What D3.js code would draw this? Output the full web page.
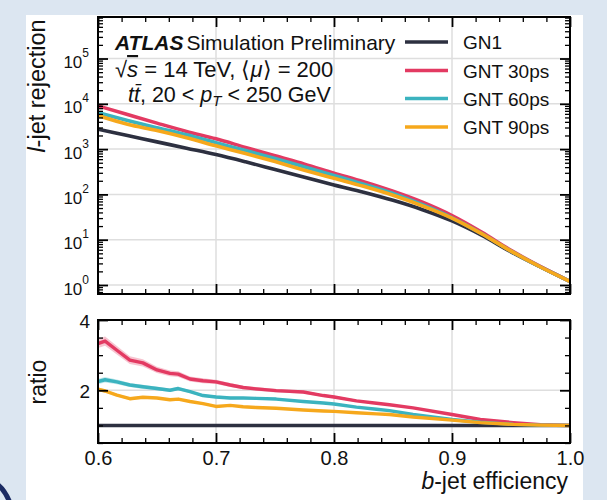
<!DOCTYPE html>
<html><head><meta charset="utf-8">
<script src="https://cdn.jsdelivr.net/npm/d3@7"></script>
<style>
body{margin:0;background:#dce6f1;}
svg{display:block;}
text{font-family:"Liberation Sans",Arial,Helvetica,sans-serif;fill:#111;}
</style>
</head><body><svg id="c" width="607" height="500"></svg>
<script>
// ---------------- data ----------------
const seriesNames = ["GN1", "GNT 30ps", "GNT 60ps", "GNT 90ps"];
const seriesColors = ["#2d3040", "#e33a62", "#3bb3bf", "#f6a81c"];

const effTop = [0.6, 0.625, 0.65, 0.675, 0.7, 0.725, 0.75, 0.775, 0.8, 0.825, 0.85, 0.875, 0.9, 0.925, 0.95, 0.975, 1.0];
const gn1Rej   = [2754, 1995, 1445, 1047, 759, 525, 355, 240, 162, 112, 74, 46, 26, 12.6, 5.4, 2.5, 1.2];
const gnt30Rej = [9000, 5800, 3750, 2460, 1690, 1090, 710, 466, 295, 190, 117, 67, 34, 14.7, 5.8, 2.55, 1.2];
const gnt60Rej = [6400, 4290, 2960, 2070, 1380, 930, 620, 403, 261, 168, 105, 59, 30.4, 13.7, 5.6, 2.5, 1.2];
const gnt90Rej = [5500, 3530, 2570, 1780, 1180, 800, 530, 343, 227, 151, 96, 56, 30, 13.6, 5.6, 2.5, 1.2];

const effRatio = [0.6, 0.606, 0.616, 0.627, 0.638, 0.65, 0.661, 0.668, 0.678, 0.689, 0.7, 0.712, 0.723, 0.734, 0.751, 0.774, 0.791, 0.8, 0.819, 0.836, 0.847, 0.867, 0.9, 0.924, 0.952, 0.975, 1.0];
const gn1Ratio   = [1, 1, 1, 1, 1, 1, 1, 1, 1, 1, 1, 1, 1, 1, 1, 1, 1, 1, 1, 1, 1, 1, 1, 1, 1, 1, 1];
const gnt30Ratio = [3.33, 3.40, 3.14, 2.86, 2.78, 2.58, 2.48, 2.46, 2.32, 2.27, 2.24, 2.15, 2.08, 2.04, 1.99, 1.95, 1.85, 1.81, 1.70, 1.63, 1.59, 1.50, 1.31, 1.17, 1.08, 1.02, 1.0];
const gnt60Ratio = [2.25, 2.30, 2.24, 2.15, 2.10, 2.05, 2.00, 2.05, 1.96, 1.85, 1.81, 1.78, 1.78, 1.77, 1.75, 1.68, 1.64, 1.61, 1.52, 1.46, 1.42, 1.31, 1.17, 1.09, 1.03, 1.01, 1.0];
const gnt90Ratio = [2.03, 1.98, 1.86, 1.76, 1.80, 1.78, 1.73, 1.75, 1.68, 1.62, 1.54, 1.57, 1.53, 1.51, 1.49, 1.44, 1.41, 1.40, 1.36, 1.33, 1.31, 1.24, 1.15, 1.08, 1.03, 1.01, 1.0];
const gnt30Err = [0.13, 0.13, 0.12, 0.11, 0.10, 0.09, 0.08, 0.08, 0.07, 0.07, 0.06, 0.06, 0.05, 0.05, 0.05, 0.04, 0.04, 0.04, 0.03, 0.03, 0.03, 0.02, 0.02, 0.01, 0.01, 0.01, 0.0];
const gnt60Err = [0.08, 0.08, 0.07, 0.06, 0.06, 0.05, 0.05, 0.05, 0.04, 0.04, 0.04, 0.04, 0.03, 0.03, 0.03, 0.03, 0.02, 0.02, 0.02, 0.02, 0.02, 0.02, 0.01, 0.01, 0.01, 0.0, 0.0];
const gnt90Err = [0.05, 0.05, 0.04, 0.04, 0.04, 0.03, 0.03, 0.03, 0.03, 0.03, 0.03, 0.02, 0.02, 0.02, 0.02, 0.02, 0.02, 0.02, 0.02, 0.01, 0.01, 0.01, 0.01, 0.01, 0.0, 0.0, 0.0];

const xTicks = [0.6, 0.7, 0.8, 0.9, 1.0];
const xTickLabels = ["0.6", "0.7", "0.8", "0.9", "1.0"];
const xGrid = [0.7, 0.8, 0.9];
const yTopTicks = [1, 10, 100, 1000, 10000, 100000];
const yTopExps = ["0", "1", "2", "3", "4", "5"];
const ratioTicks = [2, 4];
const ratioTickLabels = ["2", "4"];
const ratioMinor = [0.5, 1, 1.5, 2.5, 3, 3.5];

// ---------------- layout ----------------
const svg = d3.select("#c");
svg.append("rect").attr("width", 607).attr("height", 500).attr("fill", "#dce6f1");
svg.append("rect").attr("x", 26).attr("y", 15).attr("width", 557).attr("height", 485).attr("fill", "#fff");
svg.append("path").attr("d", "M-3,484 Q5,490 10,503").attr("stroke", "#1b2b63").attr("stroke-width", 5).attr("fill", "none");

const L = 98, R = 570, T1 = 17, B1 = 294, T2 = 320, B2 = 443;
const x = d3.scaleLinear().domain([0.6, 1.0]).range([L, R]);
const yTop = d3.scaleLog().domain([0.633, 8.25e5]).range([B1, T1]);
const yRat = d3.scaleLinear().domain([0.5, 4]).range([B2, T2]);

const defs = svg.append("defs");
defs.append("clipPath").attr("id", "c1").append("rect").attr("x", L).attr("y", T1).attr("width", R - L).attr("height", B1 - T1);
defs.append("clipPath").attr("id", "c2").append("rect").attr("x", L).attr("y", T2).attr("width", R - L).attr("height", B2 - T2);

const gridCol = "#dedede";
const g = svg.append("g");
g.selectAll(".hg1").data(yTopTicks).join("line").attr("x1", L).attr("x2", R)
  .attr("y1", d => yTop(d)).attr("y2", d => yTop(d)).attr("stroke", gridCol).attr("stroke-width", 1.5);
g.selectAll(".vg1").data(xGrid).join("line").attr("x1", d => x(d)).attr("x2", d => x(d))
  .attr("y1", T1).attr("y2", B1).attr("stroke", gridCol).attr("stroke-width", 1.5);
g.selectAll(".vg2").data(xGrid).join("line").attr("x1", d => x(d)).attr("x2", d => x(d))
  .attr("y1", T2).attr("y2", B2).attr("stroke", gridCol).attr("stroke-width", 1.5);
g.selectAll(".hg2").data([2]).join("line").attr("x1", L).attr("x2", R)
  .attr("y1", d => yRat(d)).attr("y2", d => yRat(d)).attr("stroke", gridCol).attr("stroke-width", 1.5);

// ---------------- top panel lines ----------------
const topSeries = [gn1Rej, gnt30Rej, gnt60Rej, gnt90Rej];
const lineTop = d3.line().x(d => x(d[0])).y(d => yTop(d[1])).curve(d3.curveMonotoneX);
const gTop = svg.append("g").attr("clip-path", "url(#c1)");
topSeries.forEach((s, i) => {
  gTop.append("path").datum(effTop.map((e, k) => [e, s[k]]))
    .attr("d", lineTop).attr("fill", "none").attr("stroke", seriesColors[i])
    .attr("stroke-width", 3.6).attr("stroke-linejoin", "round");
});

// ---------------- ratio panel ----------------
const ratioSeries = [gn1Ratio, gnt30Ratio, gnt60Ratio, gnt90Ratio];
const ratioErr = [null, gnt30Err, gnt60Err, gnt90Err];
const gRat = svg.append("g").attr("clip-path", "url(#c2)");
const area = d3.area().x(d => x(d[0])).y0(d => yRat(d[1] - d[2])).y1(d => yRat(d[1] + d[2]));
const lineRat = d3.line().x(d => x(d[0])).y(d => yRat(d[1]));
ratioSeries.forEach((s, i) => {
  if (ratioErr[i]) {
    gRat.append("path").datum(effRatio.map((e, k) => [e, s[k], ratioErr[i][k]]))
      .attr("d", area).attr("fill", seriesColors[i]).attr("opacity", 0.3);
  }
});
ratioSeries.forEach((s, i) => {
  gRat.append("path").datum(effRatio.map((e, k) => [e, s[k]]))
    .attr("d", lineRat).attr("fill", "none").attr("stroke", seriesColors[i])
    .attr("stroke-width", 3.4).attr("stroke-linejoin", "round");
});

// ---------------- axes ----------------
const xMinor = d3.range(0.6, 1.0001, 0.02).filter(v => Math.abs(v * 10 - Math.round(v * 10)) > 1e-6);
const yTopMinor = [];
for (let e = -1; e <= 5; e++) for (let k = 2; k <= 9; k++) {
  const v = k * Math.pow(10, e);
  if (v > 0.633 && v < 8.25e5) yTopMinor.push(v);
}
function addAxis(transform, gen, major) {
  const a = svg.append("g").attr("transform", transform).call(gen);
  a.select(".domain").remove();
  a.selectAll(".tick line").attr("stroke", "#000").attr("stroke-width", major ? 1.8 : 1.3);
  a.selectAll(".tick text").remove();
}
addAxis(`translate(0,${B1})`, d3.axisBottom(x).tickValues(xTicks).tickSizeInner(-10).tickSizeOuter(0), true);
addAxis(`translate(0,${B1})`, d3.axisBottom(x).tickValues(xMinor).tickSizeInner(-5).tickSizeOuter(0), false);
addAxis(`translate(0,${T1})`, d3.axisTop(x).tickValues(xTicks).tickSizeInner(-10).tickSizeOuter(0), true);
addAxis(`translate(0,${T1})`, d3.axisTop(x).tickValues(xMinor).tickSizeInner(-5).tickSizeOuter(0), false);
addAxis(`translate(${L},0)`, d3.axisLeft(yTop).tickValues(yTopTicks).tickSizeInner(-10).tickSizeOuter(0), true);
addAxis(`translate(${L},0)`, d3.axisLeft(yTop).tickValues(yTopMinor).tickSizeInner(-5).tickSizeOuter(0), false);
addAxis(`translate(${R},0)`, d3.axisRight(yTop).tickValues(yTopTicks).tickSizeInner(-10).tickSizeOuter(0), true);
addAxis(`translate(${R},0)`, d3.axisRight(yTop).tickValues(yTopMinor).tickSizeInner(-5).tickSizeOuter(0), false);
addAxis(`translate(0,${B2})`, d3.axisBottom(x).tickValues(xTicks).tickSizeInner(-10).tickSizeOuter(0), true);
addAxis(`translate(0,${B2})`, d3.axisBottom(x).tickValues(xMinor).tickSizeInner(-5).tickSizeOuter(0), false);
addAxis(`translate(0,${T2})`, d3.axisTop(x).tickValues(xTicks).tickSizeInner(-10).tickSizeOuter(0), true);
addAxis(`translate(0,${T2})`, d3.axisTop(x).tickValues(xMinor).tickSizeInner(-5).tickSizeOuter(0), false);
addAxis(`translate(${L},0)`, d3.axisLeft(yRat).tickValues(ratioTicks).tickSizeInner(-10).tickSizeOuter(0), true);
addAxis(`translate(${L},0)`, d3.axisLeft(yRat).tickValues(ratioMinor).tickSizeInner(-5).tickSizeOuter(0), false);
addAxis(`translate(${R},0)`, d3.axisRight(yRat).tickValues(ratioTicks).tickSizeInner(-10).tickSizeOuter(0), true);
addAxis(`translate(${R},0)`, d3.axisRight(yRat).tickValues(ratioMinor).tickSizeInner(-5).tickSizeOuter(0), false);

// tick labels
const xl = svg.append("g").attr("transform", `translate(0,${B2})`)
  .call(d3.axisBottom(x).tickValues(xTicks).tickSize(0).tickPadding(8).tickFormat((d, i) => xTickLabels[i]));
xl.select(".domain").remove();
xl.selectAll(".tick text").attr("font-size", 20).attr("font-family", null).attr("fill", "#111");

const yl = svg.append("g").attr("transform", `translate(${L},0)`)
  .call(d3.axisLeft(yTop).tickValues(yTopTicks).tickSize(0).tickPadding(9).tickFormat(() => ""));
yl.select(".domain").remove();
yl.selectAll(".tick text").each(function (d, i) {
  const t = d3.select(this).attr("dy", null).attr("y", 9).attr("font-family", null).attr("fill", "#111");
  t.append("tspan").attr("font-size", 17).text("10");
  t.append("tspan").attr("font-size", 12).attr("dy", -11).text(yTopExps[i]);
});

const rl = svg.append("g").attr("transform", `translate(${L},0)`)
  .call(d3.axisLeft(yRat).tickValues(ratioTicks).tickSize(0).tickPadding(8).tickFormat((d, i) => ratioTickLabels[i]));
rl.select(".domain").remove();
rl.selectAll(".tick text").attr("font-size", 19).attr("font-family", null).attr("fill", "#111").attr("dy", "0.4em");

// frames
svg.append("rect").attr("x", L).attr("y", T1).attr("width", R - L).attr("height", B1 - T1)
  .attr("fill", "none").attr("stroke", "#000").attr("stroke-width", 2);
svg.append("rect").attr("x", L).attr("y", T2).attr("width", R - L).attr("height", B2 - T2)
  .attr("fill", "none").attr("stroke", "#000").attr("stroke-width", 2);

// ---------------- annotations ----------------
const t1 = svg.append("text").attr("x", 115).attr("y", 50).attr("font-size", 21);
t1.append("tspan").attr("font-weight", "bold").attr("font-style", "italic").text("ATLAS");
t1.append("tspan").attr("dx", 3).text("Simulation Preliminary");

const t2 = svg.append("text").attr("x", 115).attr("y", 77).attr("font-size", 22);
t2.append("tspan").text("\u221A");
t2.append("tspan").attr("font-style", "italic").attr("text-decoration", "overline").text("s");
t2.append("tspan").text(" = 14 TeV, \u27E8");
t2.append("tspan").attr("font-style", "italic").text("\u03BC");
t2.append("tspan").text("\u27E9 = 200");

const t3 = svg.append("text").attr("x", 128).attr("y", 102).attr("font-size", 21.5);
t3.append("tspan").attr("font-style", "italic").text("t");
t3.append("tspan").attr("font-style", "italic").text("t\u0304");
t3.append("tspan").text(", 20 < ");
t3.append("tspan").attr("font-style", "italic").text("p");
t3.append("tspan").attr("font-style", "italic").attr("font-size", 15).attr("dy", 4).text("T");
t3.append("tspan").attr("dy", -4).text(" < 250 GeV");

// legend
const legY = [42, 70.5, 98.5, 127];
seriesNames.forEach((n, i) => {
  svg.append("line").attr("x1", 405).attr("x2", 448).attr("y1", legY[i]).attr("y2", legY[i])
    .attr("stroke", seriesColors[i]).attr("stroke-width", 3.6);
  svg.append("text").attr("x", 463).attr("y", legY[i] + 7).attr("font-size", 19).text(n);
});

// axis titles
const yt = svg.append("text").attr("transform", "translate(45,86) rotate(-90)").attr("text-anchor", "middle").attr("font-size", 23.5);
yt.append("tspan").attr("font-style", "italic").text("l");
yt.append("tspan").text("-jet rejection");
svg.append("text").attr("transform", "translate(46,382) rotate(-90)").attr("text-anchor", "middle").attr("font-size", 23).text("ratio");
const xt = svg.append("text").attr("x", 568).attr("y", 489).attr("text-anchor", "end").attr("font-size", 23);
xt.append("tspan").attr("font-style", "italic").text("b");
xt.append("tspan").text("-jet efficiency");
</script></body></html>
